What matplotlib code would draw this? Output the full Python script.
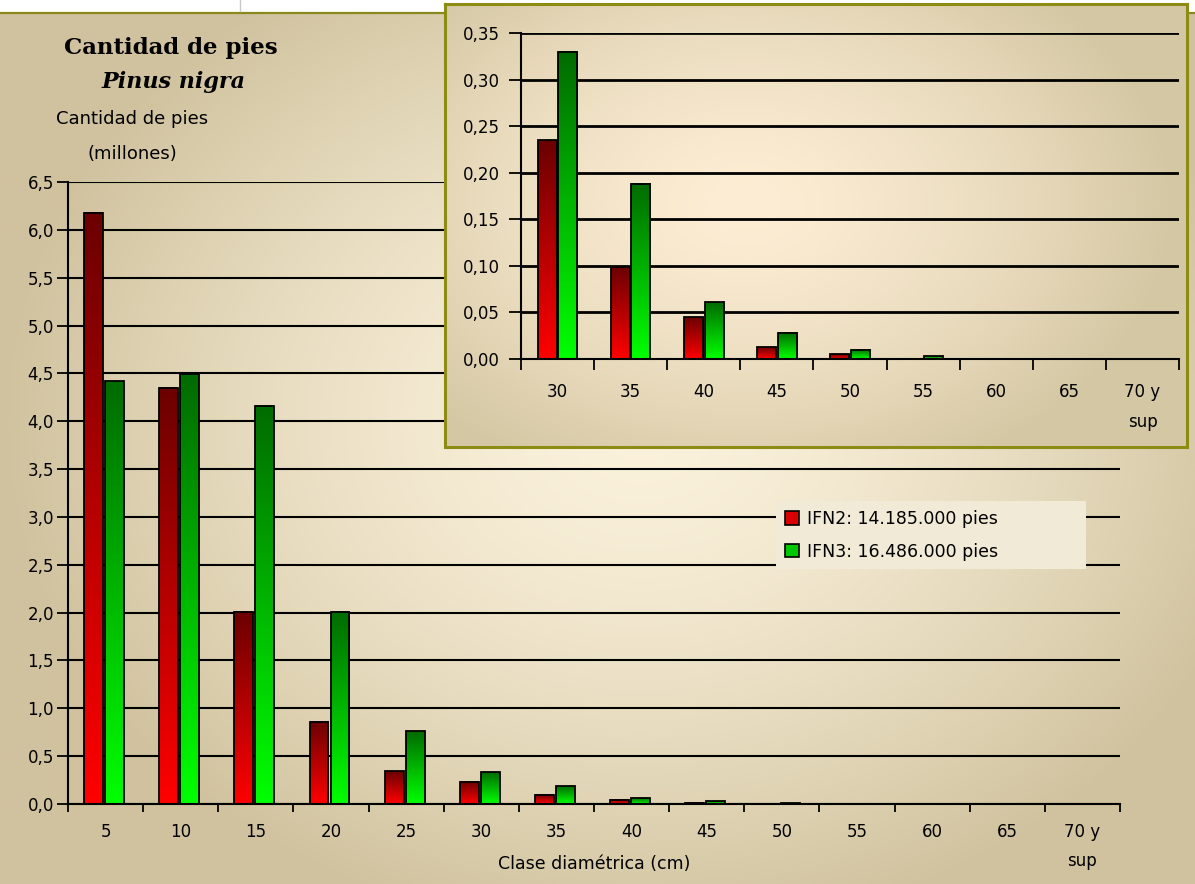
import numpy as np
import matplotlib
matplotlib.use("Agg")
import matplotlib.pyplot as plt
from matplotlib.patches import Patch, Rectangle
from matplotlib.ticker import FuncFormatter


W, H = 1195, 884

# diameter classes (cm) and number of trees (millions)
clases = ["5", "10", "15", "20", "25", "30", "35", "40", "45", "50",
          "55", "60", "65", "70 y\nsup"]
ifn2 = [6.18, 4.35, 2.01, 0.86, 0.34, 0.235, 0.099, 0.045, 0.0125, 0.005,
        0.0, 0.0, 0.0, 0.0]
ifn3 = [4.42, 4.49, 4.16, 2.01, 0.76, 0.33, 0.188, 0.061, 0.028, 0.010,
        0.003, 0.0, 0.0, 0.0]
series_labels = ["IFN2: 14.185.000 pies", "IFN3: 16.486.000 pies"]

main_yticks = np.arange(0, 6.51, 0.5)
inset_yticks = np.arange(0, 0.351, 0.05)
inset_from = clases.index("30")

RED_TOP, RED_BOTTOM = (0.42, 0.0, 0.0), (1.0, 0.0, 0.0)
GREEN_TOP, GREEN_BOTTOM = (0.0, 0.42, 0.0), (0.0, 1.0, 0.0)


def radial_bg(w, h, cx, cy, rx, ry, inner, outer, power=1.5):
    """
    Elliptical gradient image, light in the middle, tan at the edges.
    """
    yy, xx = np.mgrid[0:h, 0:w]
    r = np.sqrt(((xx - cx) / rx) ** 2 + ((yy - cy) / ry) ** 2)
    t = np.clip(r, 0, 1)[..., None] ** power
    inner = np.array(inner) / 255.0
    outer = np.array(outer) / 255.0
    return inner * (1 - t) + outer * t


def gradient_bars(ax, x, heights, width, top_rgb, bottom_rgb, lw):
    """
    Bars with a vertical dark-to-bright gradient, like the Excel original.
    """
    bars = ax.bar(x, heights, width, facecolor="none", edgecolor="black",
                  linewidth=lw, zorder=3)
    ramp = np.linspace(0, 1, 128)[:, None, None]
    img = np.array(top_rgb) * (1 - ramp) + np.array(bottom_rgb) * ramp
    for b in bars:
        h = b.get_height()
        if h <= 0:
            continue
        ax.imshow(img, extent=(b.get_x(), b.get_x() + b.get_width(), 0, h),
                  aspect="auto", origin="upper", zorder=2.5,
                  interpolation="bilinear")
    return bars


def comma(decimals):
    return FuncFormatter(lambda v, p: f"{v:.{decimals}f}".replace(".", ","))


fig = plt.figure(figsize=(W / 100, H / 100), dpi=100, facecolor="white")

# background panel
bg = fig.add_axes([0, 0, 1, 1], zorder=0)
bg.imshow(radial_bg(W, H, 640, 420, 640, 520, (251, 242, 220), (208, 194, 158)),
          extent=(0, W, H, 0), aspect="auto")
bg.add_patch(Rectangle((0, 0), W, 12, facecolor="white", edgecolor="none"))
bg.plot([0, W], [12.5, 12.5], color="#8a8a1c", lw=1.6)
bg.plot([240, 240], [0, 11], color="#c8c8c8", lw=1)
bg.set_xlim(0, W)
bg.set_ylim(H, 0)
bg.axis("off")

# main chart
x = np.arange(len(clases))
ax = fig.add_axes([68 / W, 1 - 804 / H, (1120 - 68) / W, (804 - 182) / H], zorder=1)
ax.set_facecolor("none")
gradient_bars(ax, x - 0.16, ifn2, 0.25, RED_TOP, RED_BOTTOM, 1.3)
gradient_bars(ax, x + 0.12, ifn3, 0.25, GREEN_TOP, GREEN_BOTTOM, 1.3)
ax.set_xlim(-0.5, len(clases) - 0.5)
ax.set_ylim(0, 6.5)
ax.set_yticks(main_yticks)
ax.yaxis.set_major_formatter(comma(1))
ax.set_xticks(np.arange(len(clases) + 1) - 0.5)
ax.set_xticklabels([])
ax.set_xticks(x, labels=clases, minor=True)
for t in ax.get_xticklabels(minor=True):
    t.set_linespacing(1.75)
ax.tick_params(axis="x", which="major", direction="out", length=6, width=1.3)
ax.tick_params(axis="x", which="minor", length=0, pad=14, labelsize=12)
ax.tick_params(axis="y", direction="out", length=8, width=1.3, pad=2, labelsize=12)
ax.yaxis.grid(True, color="black", lw=1.5)
ax.set_axisbelow(True)
for s in ["top", "right"]:
    ax.spines[s].set_visible(False)
for s in ["left", "bottom"]:
    ax.spines[s].set_linewidth(1.5)
ax.set_xlabel("Clase diamétrica (cm)", fontsize=12.5)
ax.xaxis.set_label_coords(0.5, -0.082)

handles = [Patch(facecolor="#d80000", edgecolor="black", lw=1.2),
           Patch(facecolor="#00c800", edgecolor="black", lw=1.2)]
leg = ax.legend(handles, series_labels, loc="center", mode="expand",
                bbox_to_anchor=(0.673, 0.382, 0.295, 0.1), fontsize=12.5,
                handlelength=0.8, handleheight=0.8, handletextpad=0.5,
                labelspacing=0.85, borderpad=0.5, borderaxespad=0,
                frameon=True, fancybox=False)
leg.get_frame().set_facecolor("#f1ead6")
leg.get_frame().set_edgecolor("none")
leg.get_frame().set_alpha(1)

# titles and y label
fig.text(171 / W, 1 - 48 / H, "Cantidad de pies", ha="center", va="center",
         fontsize=16.5, fontweight="bold", family="DejaVu Serif")
fig.text(174 / W, 1 - 82 / H, "Pinus nigra", ha="center", va="center",
         fontsize=16, fontweight="bold", style="italic", family="DejaVu Serif")
fig.text(132 / W, 1 - 119 / H, "Cantidad de pies", ha="center", va="center", fontsize=13)
fig.text(132 / W, 1 - 154 / H, "(millones)", ha="center", va="center", fontsize=13)

# inset box
box = fig.add_axes([445 / W, 1 - 447 / H, (1187 - 445) / W, (447 - 4) / H], zorder=2)
bw, bh = 1187 - 445, 447 - 4
box.imshow(radial_bg(bw, bh, 300, 200, 430, 300, (252, 237, 212), (212, 199, 163)),
           extent=(0, bw, bh, 0), aspect="auto")
box.set_xticks([])
box.set_yticks([])
for s in box.spines.values():
    s.set_color("#8c8c14")
    s.set_linewidth(2.2)

# inset chart (30 cm and above)
cls_in = clases[inset_from:]
xi = np.arange(len(cls_in))
axi = fig.add_axes([521 / W, 1 - 359 / H, (1179 - 521) / W, (359 - 33) / H], zorder=3)
axi.set_facecolor("none")
gradient_bars(axi, xi - 0.14, ifn2[inset_from:], 0.26, RED_TOP, RED_BOTTOM, 1.3)
gradient_bars(axi, xi + 0.14, ifn3[inset_from:], 0.26, GREEN_TOP, GREEN_BOTTOM, 1.3)
axi.set_xlim(-0.5, len(cls_in) - 0.5)
axi.set_ylim(0, 0.35)
axi.set_yticks(inset_yticks)
axi.yaxis.set_major_formatter(comma(2))
axi.set_xticks(np.arange(len(cls_in) + 1) - 0.5)
axi.set_xticklabels([])
axi.set_xticks(xi, labels=cls_in, minor=True)
for t in axi.get_xticklabels(minor=True):
    t.set_linespacing(1.9)
axi.tick_params(axis="x", which="major", direction="out", length=8, width=1.3)
axi.tick_params(axis="x", which="minor", length=0, pad=17, labelsize=12)
axi.tick_params(axis="y", direction="out", length=9, width=1.3, pad=6, labelsize=12)
axi.yaxis.grid(True, color="black", lw=2)
axi.set_axisbelow(True)
for s in ["top", "right"]:
    axi.spines[s].set_visible(False)
for s in ["left", "bottom"]:
    axi.spines[s].set_linewidth(1.5)

fig.savefig("out.png", dpi=100)
